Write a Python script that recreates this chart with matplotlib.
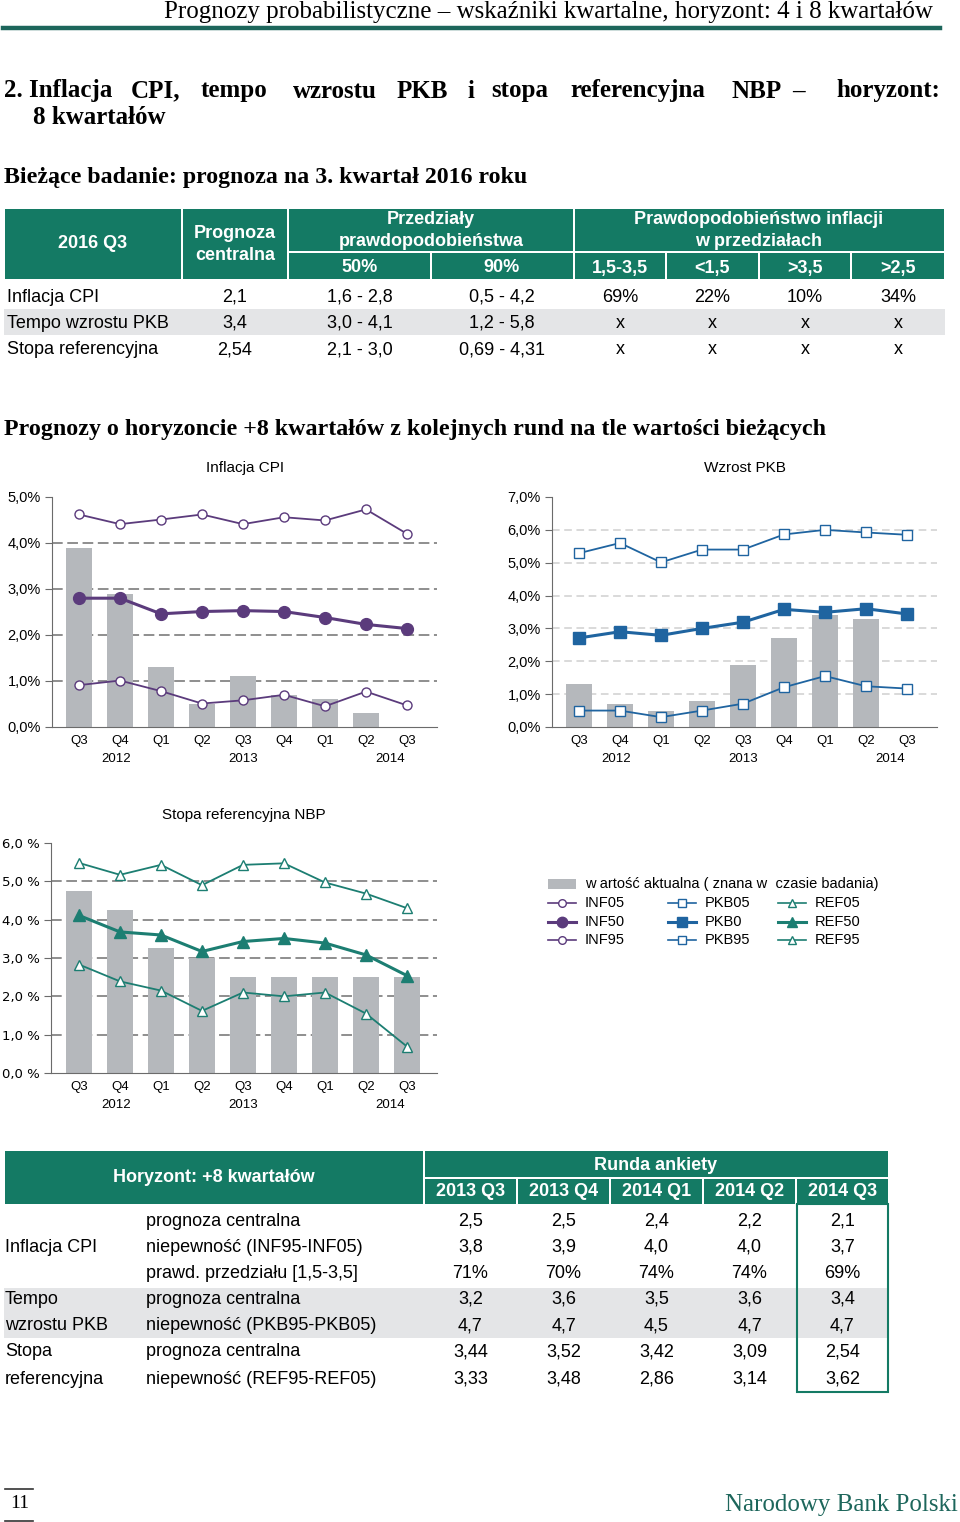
import numpy as np
import matplotlib.pyplot as plt
from matplotlib.patches import Rectangle

W, H = 960, 1522

# ---- chart data ----
quarters = ['Q3', 'Q4', 'Q1', 'Q2', 'Q3', 'Q4', 'Q1', 'Q2', 'Q3']
years = ['2012', '2013', '2014']
year_pos = [0.9, 4, 7.6]

cpi_actual = [3.9, 2.9, 1.3, 0.5, 1.1, 0.7, 0.6, 0.3, np.nan]
inf05 = [0.91, 1.01, 0.78, 0.51, 0.58, 0.70, 0.45, 0.77, 0.47]
inf50 = [2.80, 2.80, 2.46, 2.51, 2.53, 2.51, 2.38, 2.23, 2.14]
inf95 = [4.62, 4.41, 4.51, 4.62, 4.41, 4.56, 4.49, 4.73, 4.20]

pkb_actual = [1.3, 0.7, 0.5, 0.8, 1.9, 2.7, 3.4, 3.3, np.nan]
pkb05 = [0.50, 0.50, 0.30, 0.50, 0.71, 1.21, 1.55, 1.24, 1.17]
pkb50 = [2.71, 2.90, 2.79, 3.00, 3.19, 3.58, 3.49, 3.60, 3.44]
pkb95 = [5.29, 5.60, 5.01, 5.40, 5.40, 5.86, 6.00, 5.92, 5.85]

ref_actual = [4.75, 4.25, 3.25, 3.0, 2.5, 2.5, 2.5, 2.5, 2.5]
ref05 = [2.83, 2.39, 2.15, 1.62, 2.10, 2.00, 2.10, 1.55, 0.69]
ref50 = [4.11, 3.68, 3.60, 3.17, 3.43, 3.51, 3.39, 3.08, 2.54]
ref95 = [5.48, 5.17, 5.43, 4.90, 5.43, 5.47, 4.97, 4.68, 4.30]

# ---- table 1 data ----
t1_rows = ['Inflacja CPI', 'Tempo wzrostu PKB', 'Stopa referencyjna']
t1_central = ['2,1', '3,4', '2,54']
t1_50 = ['1,6 - 2,8', '3,0 - 4,1', '2,1 - 3,0']
t1_90 = ['0,5 - 4,2', '1,2 - 5,8', '0,69 - 4,31']
t1_prob_hdr = ['1,5-3,5', '<1,5', '>3,5', '>2,5']
t1_prob = [['69%', '22%', '10%', '34%'], ['x', 'x', 'x', 'x'], ['x', 'x', 'x', 'x']]

# ---- table 2 data ----
t2_rounds = ['2013 Q3', '2013 Q4', '2014 Q1', '2014 Q2', '2014 Q3']
t2_group = ['', 'Inflacja CPI', '', 'Tempo', 'wzrostu PKB', 'Stopa', 'referencyjna']
t2_desc = ['prognoza centralna', 'niepewność (INF95-INF05)', 'prawd. przedziału [1,5-3,5]',
           'prognoza centralna', 'niepewność (PKB95-PKB05)',
           'prognoza centralna', 'niepewność (REF95-REF05)']
t2_vals = [['2,5', '2,5', '2,4', '2,2', '2,1'],
           ['3,8', '3,9', '4,0', '4,0', '3,7'],
           ['71%', '70%', '74%', '74%', '69%'],
           ['3,2', '3,6', '3,5', '3,6', '3,4'],
           ['4,7', '4,7', '4,5', '4,7', '4,7'],
           ['3,44', '3,52', '3,42', '3,09', '2,54'],
           ['3,33', '3,48', '2,86', '3,14', '3,62']]

TEAL = '#147a64'
TEAL_DARK = '#1d665b'
GRAYBAND = '#e4e5e7'
BAR = '#b5b8bc'
PURPLE = '#5b3b7c'
BLUE = '#1f64a0'
GREEN = '#1c7e72'

SERIF = ['Liberation Serif', 'DejaVu Serif']
NARROW = ['Liberation Sans Narrow', 'Liberation Sans', 'DejaVu Sans']
SANS = ['Liberation Sans', 'DejaVu Sans']

fig = plt.figure(figsize=(W / 100, H / 100), dpi=100)
page = fig.add_axes([0, 0, 1, 1])
page.set_xlim(0, W)
page.set_ylim(H, 0)
page.axis('off')


def txt(x, y, s, size=13, ha='left', va='center', color='black', family=NARROW, weight='normal'):
    page.text(x, y, s, fontsize=size, ha=ha, va=va, color=color, family=family, fontweight=weight)


def box(x0, y0, x1, y1, color):
    page.add_patch(Rectangle((x0, y0), x1 - x0, y1 - y0, color=color, lw=0, zorder=0))


# ---- page header ----
txt(933, 12, 'Prognozy probabilistyczne – wskaźniki kwartalne, horyzont: 4 i 8 kwartałów',
    size=18, ha='right', family=SERIF)
page.plot([3, 940], [28, 28], color=TEAL_DARK, lw=3.2)

words = [(4, '2. Inflacja'), (131, 'CPI,'), (201, 'tempo'), (293, 'wzrostu'), (397, 'PKB'),
         (467, 'i'), (491, 'stopa'), (570, 'referencyjna'), (732, 'NBP'), (792, '–')]
for x, w in words:
    txt(x, 91, w, size=18, family=SERIF, weight='bold')
txt(940, 91, 'horyzont:', size=18, ha='right', family=SERIF, weight='bold')
txt(33, 118, '8 kwartałów', size=18, family=SERIF, weight='bold')
txt(4, 178, 'Bieżące badanie: prognoza na 3. kwartał 2016 roku', size=17.2, family=SERIF, weight='bold')

# ---- table 1 ----
box(5, 209, 181, 279, TEAL)
box(183, 209, 287, 279, TEAL)
box(289, 209, 573, 251, TEAL)
box(289, 253, 430, 279, TEAL)
box(432, 253, 573, 279, TEAL)
box(575, 209, 944, 251, TEAL)
for a, b in [(575, 665), (667, 758), (760, 850), (852, 944)]:
    box(a, 253, b, 279, TEAL)
hw = dict(color='white', weight='bold', size=13)
txt(93, 244, '2016 Q3', ha='center', **hw)
txt(235, 234, 'Prognoza', ha='center', **hw)
txt(235, 255, 'centralna', ha='center', **hw)
txt(431, 220, 'Przedziały', ha='center', **hw)
txt(431, 241, 'prawdopodobieństwa', ha='center', **hw)
txt(360, 268, '50%', ha='center', **hw)
txt(502, 268, '90%', ha='center', **hw)
txt(759, 220, 'Prawdopodobieństwo inflacji', ha='center', **hw)
txt(759, 241, 'w przedziałach', ha='center', **hw)
pcols = [620, 712, 805, 898]
for x, s in zip(pcols, t1_prob_hdr):
    txt(x, 268, s, ha='center', **hw)

box(4, 309, 945, 335, GRAYBAND)
for i, y in enumerate([297, 323, 350]):
    txt(7, y, t1_rows[i])
    txt(235, y, t1_central[i], ha='center')
    txt(360, y, t1_50[i], ha='center')
    txt(502, y, t1_90[i], ha='center')
    for x, s in zip(pcols, t1_prob[i]):
        txt(x, y, s, ha='center')

txt(4, 429, 'Prognozy o horyzoncie +8 kwartałów z kolejnych rund na tle wartości bieżących',
    size=17.3, family=SERIF, weight='bold')


# ---- charts ----
def chart(x0, ytop, x1, ybot, x_first, ymax, actual, lo, mid, hi, color, marker,
          grid_color, dashes, fmt, title, title_x, title_y):
    ax = fig.add_axes([x0 / W, 1 - ybot / H, (x1 - x0) / W, (ybot - ytop) / H])
    ax.patch.set_alpha(0)
    ax.set_xlim((x0 - x_first) / 41, (x1 - x_first) / 41)
    ax.set_ylim(0, ymax)
    for v in range(1, ymax):
        ax.axhline(v, color=grid_color, lw=1.1, dashes=dashes, zorder=0)
    x = np.arange(len(quarters))
    ax.bar(x, actual, width=0.62, color=BAR, zorder=1)
    ax.plot(x, hi, color=color, lw=1.3, marker=marker, ms=6.5, mfc='white', mec=color, mew=1, zorder=3)
    ax.plot(x, lo, color=color, lw=1.3, marker=marker, ms=6.5, mfc='white', mec=color, mew=1, zorder=3)
    ax.plot(x, mid, color=color, lw=2.2, marker=marker, ms=8.5, mfc=color, mec=color, zorder=4)
    for s in ['top', 'right']:
        ax.spines[s].set_visible(False)
    for s in ['left', 'bottom']:
        ax.spines[s].set_color('#6b6b6b')
    ax.set_yticks(range(0, ymax + 1), [fmt % v for v in range(0, ymax + 1)])
    ax.tick_params(axis='y', length=5, color='#6b6b6b', labelsize=10.5, pad=3)
    ax.set_xticks(x, quarters)
    ax.tick_params(axis='x', length=0, labelsize=9.5, pad=6)
    for lab in ax.get_xticklabels() + ax.get_yticklabels():
        lab.set_family(SANS)
    for p, yr in zip(year_pos, years):
        ax.annotate(yr, xy=(p, 0), xycoords=('data', 'axes fraction'), xytext=(0, -32),
                    textcoords='offset pixels', ha='center', va='center', fontsize=9.5, family=SANS)
    txt(title_x, title_y, title, size=11, ha='center', family=SANS)
    return ax


chart(52, 497, 437, 727, 79, 5, cpi_actual, inf05, inf50, inf95, PURPLE, 'o',
      '#707070', (7, 3), '%d,0%%', 'Inflacja CPI', 245, 468)
chart(552, 497, 937, 727, 579, 7, pkb_actual, pkb05, pkb50, pkb95, BLUE, 's',
      '#cfcfcf', (5, 3), '%d,0%%', 'Wzrost PKB', 745, 468)
ax3 = chart(51, 843, 437, 1073, 79, 6, ref_actual, ref05, ref50, ref95, GREEN, '^',
            '#707070', (7, 3), '%d,0 %%', 'Stopa referencyjna NBP', 244, 815)
for lab in ax3.get_yticklabels():
    lab.set_family(['DejaVu Sans'])
    lab.set_fontsize(9.5)

# ---- legend ----
box(548, 879, 576, 889, BAR)
txt(585, 884, 'w artość aktualna ( znana w  czasie badania)', size=10.5, family=SANS)
leg = [(548, ['INF05', 'INF50', 'INF95'], PURPLE, 'o'),
       (668, ['PKB05', 'PKB0', 'PKB95'], BLUE, 's'),
       (778, ['REF05', 'REF50', 'REF95'], GREEN, '^')]
for lx, names, c, m in leg:
    for k, (name, ly) in enumerate(zip(names, [903, 922, 940])):
        if k == 1:
            page.plot([lx, lx + 28], [ly, ly], color=c, lw=2.2)
            page.plot([lx + 14], [ly], color=c, marker=m, ms=7.5, mfc=c, mec=c)
        else:
            page.plot([lx, lx + 28], [ly, ly], color=c, lw=1.2)
            page.plot([lx + 14], [ly], color=c, marker=m, ms=5.5, mfc='white', mec=c, mew=1)
        txt(lx + 37, ly, name, size=10.5, family=SANS)

# ---- table 2 ----
box(5, 1151, 423, 1204, TEAL)
box(425, 1151, 888, 1177, TEAL)
cells = [(425, 516), (518, 609), (611, 702), (704, 795), (797, 888)]
for a, b in cells:
    box(a, 1179, b, 1204, TEAL)
txt(214, 1177, 'Horyzont: +8 kwartałów', ha='center', **hw)
txt(656, 1165, 'Runda ankiety', ha='center', **hw)
vcols = [(a + b) / 2 for a, b in cells]
for x, s in zip(vcols, t2_rounds):
    txt(x, 1192, s, ha='center', **hw)

box(4, 1288, 888, 1338, GRAYBAND)
row_y = [1221, 1247, 1274, 1299, 1326, 1352, 1379]
for i, y in enumerate(row_y):
    txt(5, y, t2_group[i])
    txt(146, y, t2_desc[i])
    for x, s in zip(vcols, t2_vals[i]):
        txt(x, y, s, ha='center')
page.add_patch(Rectangle((797, 1204), 91, 188, fill=False, edgecolor=TEAL, lw=1.5, zorder=2))

# ---- footer ----
page.plot([5, 33], [1489, 1489], color='#333333', lw=1.2)
page.plot([5, 33], [1521, 1521], color='#333333', lw=1.2)
txt(10, 1504, '11', size=14, family=SERIF)
txt(958, 1505, 'Narodowy Bank Polski', size=18, ha='right', family=SERIF, color=TEAL_DARK)

fig.savefig('out.png', dpi=100)
